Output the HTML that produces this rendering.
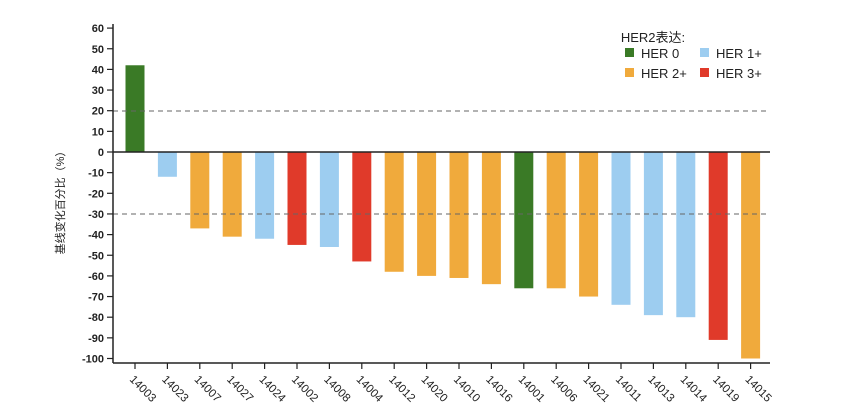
<!DOCTYPE html><html><head><style>body{margin:0;background:#fff}</style></head><body>
<svg width="868" height="404" xmlns="http://www.w3.org/2000/svg" font-family="Liberation Sans, Noto Sans CJK SC, sans-serif">
<g id="bars"></g>
<line x1="113" y1="152" x2="770" y2="152" stroke="#222" stroke-width="1.5"/>
<line x1="113" y1="111" x2="770" y2="111" stroke="#666" stroke-dasharray="5,4"/>
<line x1="113" y1="214" x2="770" y2="214" stroke="#666" stroke-dasharray="5,4"/>
<line x1="113" y1="24" x2="113" y2="363" stroke="#222" stroke-width="1.5"/>
<line x1="113" y1="363" x2="770" y2="363" stroke="#222" stroke-width="1.5"/>
<text x="64" y="200" transform="rotate(-90 64 200)" font-size="11" text-anchor="middle" fill="#222">基线变化百分比（%）</text>
<text x="653" y="42" font-size="13" text-anchor="middle" fill="#222">HER2表达:</text>
<rect x="625" y="48" width="9" height="9" fill="#3a7a26"/><text x="641" y="58" font-size="13" fill="#222">HER 0</text>
<rect x="700" y="48" width="9" height="9" fill="#9dcdf0"/><text x="716" y="58" font-size="13" fill="#222">HER 1+</text>
<rect x="625" y="68" width="9" height="9" fill="#f0aa3c"/><text x="641" y="78" font-size="13" fill="#222">HER 2+</text>
<rect x="700" y="68" width="9" height="9" fill="#e03a2a"/><text x="716" y="78" font-size="13" fill="#222">HER 3+</text>
<g id="yt" font-size="11" font-weight="bold" fill="#222" text-anchor="end"></g>
<g id="xt" font-size="11.5" fill="#222"></g>
</svg>
<script>
var ns="http://www.w3.org/2000/svg";
function el(p,t,a,tx){var e=document.createElementNS(ns,t);for(var k in a)e.setAttribute(k,a[k]);if(tx)e.textContent=tx;document.getElementById(p).appendChild(e);return e;}
var y0=152,s=2.065;
for(var v=60;v>=-100;v-=10){var y=y0-v*s;el("yt","text",{x:104,y:y+4},String(v));el("yt","line",{x1:107,y1:y,x2:113,y2:y,stroke:"#222","stroke-width":1.2});}
var G="#3a7a26",B="#9dcdf0",O="#f0aa3c",R="#e03a2a";
var d=[["14003",42,G],["14023",-12,B],["14007",-37,O],["14027",-41,O],["14024",-42,B],["14002",-45,R],["14008",-46,B],["14004",-53,R],["14012",-58,O],["14020",-60,O],["14010",-61,O],["14016",-64,O],["14001",-66,G],["14006",-66,O],["14021",-70,O],["14011",-74,B],["14013",-79,B],["14014",-80,B],["14019",-91,R],["14015",-100,O]];
d.forEach(function(b,i){var cx=135+i*32.4;var top=y0-Math.max(b[1],0)*s,h=Math.abs(b[1])*s;
el("bars","rect",{x:cx-9.5,y:top,width:19,height:h,fill:b[2]});
el("xt","line",{x1:cx,y1:363,x2:cx,y2:369,stroke:"#222","stroke-width":1.2});
el("xt","text",{x:cx-6,y:380,transform:"rotate(45 "+(cx-6)+" 380)"},b[0]);});
</script>
</body></html>
